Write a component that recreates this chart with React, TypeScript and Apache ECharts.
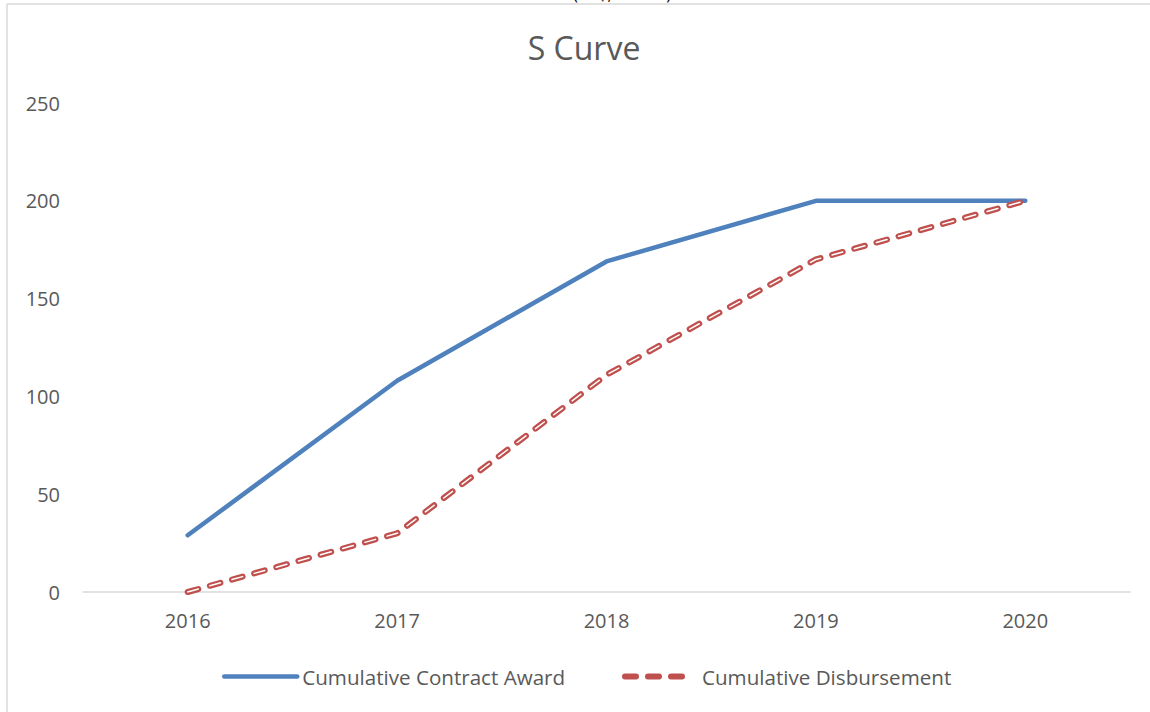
import React, { useEffect, useRef } from "react";
import * as echarts from "echarts";

const categories = ["2016", "2017", "2018", "2019", "2020"];
const contractAward = [29, 108, 169, 200, 200];
const disbursement = [0, 30, 111, 170, 200];
const seriesNames = ["Cumulative Contract Award", "Cumulative Disbursement"];
const titleText = "S Curve";
const clippedTopText = "(US$, million)";

const FONT = "'Open Sans', sans-serif";
const TEXT = "#595959";
const BLUE = "#4f81bd";
const RED = "#c0504d";
const DASH = [11, 12];

export default function App() {
  const ref = useRef<HTMLDivElement>(null);
  useEffect(() => {
    if (!ref.current) return;
    const chart = echarts.init(ref.current, null, { renderer: "svg" });
    chart.setOption({
      animation: false,
      backgroundColor: "#ffffff",
      title: {
        text: titleText,
        left: 579,
        textAlign: "center",
        top: 26,
        textStyle: { fontFamily: FONT, fontSize: 32, fontWeight: "normal", color: TEXT },
      },
      graphic: [
        { type: "line", shape: { x1: 7, y1: 4, x2: 1150, y2: 4 }, style: { stroke: "#d9d9d9", lineWidth: 1.5 } },
        { type: "line", shape: { x1: 7, y1: 4, x2: 7, y2: 712 }, style: { stroke: "#d9d9d9", lineWidth: 1.5 } },
        {
          type: "text",
          x: 622,
          y: 2,
          style: {
            text: clippedTopText,
            fontFamily: FONT,
            fontSize: 16,
            fill: "#000000",
            textAlign: "center",
            textVerticalAlign: "bottom",
          },
        },
      ],
      legend: [
        {
          data: [seriesNames[0]],
          left: 217,
          top: 661,
          itemWidth: 73,
          itemHeight: 14,
          itemStyle: { opacity: 0 },
          lineStyle: { width: 4.5, cap: "round" },
          textStyle: { fontFamily: FONT, fontSize: 20.6, color: TEXT },
        },
        {
          data: [seriesNames[1]],
          left: 617,
          top: 661,
          itemWidth: 63,
          itemHeight: 14,
          itemStyle: { opacity: 0 },
          lineStyle: { width: 6, cap: "round" },
          textStyle: { fontFamily: FONT, fontSize: 20.6, color: TEXT, padding: [0, 0, 0, 9] },
        },
      ],
      grid: { left: 83, right: 20, top: 103, bottom: 120 },
      xAxis: {
        type: "category",
        data: categories,
        boundaryGap: true,
        axisLine: { lineStyle: { color: "#d9d9d9", width: 1.5 } },
        axisTick: { show: false },
        axisLabel: { fontFamily: FONT, fontSize: 20, color: TEXT, margin: 18 },
      },
      yAxis: {
        type: "value",
        min: 0,
        max: 250,
        interval: 50,
        splitLine: { show: false },
        axisLine: { show: false },
        axisTick: { show: false },
        axisLabel: { fontFamily: FONT, fontSize: 20, color: TEXT, margin: 23 },
      },
      series: [
        {
          name: seriesNames[0],
          type: "line",
          data: contractAward,
          symbol: "none",
          color: BLUE,
          lineStyle: { color: BLUE, width: 4.5, cap: "round", join: "round" },
        },
        {
          name: seriesNames[1],
          type: "line",
          data: disbursement,
          symbol: "none",
          color: RED,
          lineStyle: { color: RED, width: 6, type: DASH, cap: "round", join: "round" },
        },
        {
          name: "disbursement-inner",
          type: "line",
          data: disbursement,
          symbol: "none",
          color: "#ffffff",
          silent: true,
          lineStyle: { color: "#ffffff", width: 1.5, type: DASH, cap: "round", join: "round" },
        },
      ],
    });
    return () => chart.dispose();
  }, []);
  return (
    <div
      ref={ref}
      style={{ position: "absolute", left: 0, top: 0, width: 1150, height: 712 }}
    />
  );
}
